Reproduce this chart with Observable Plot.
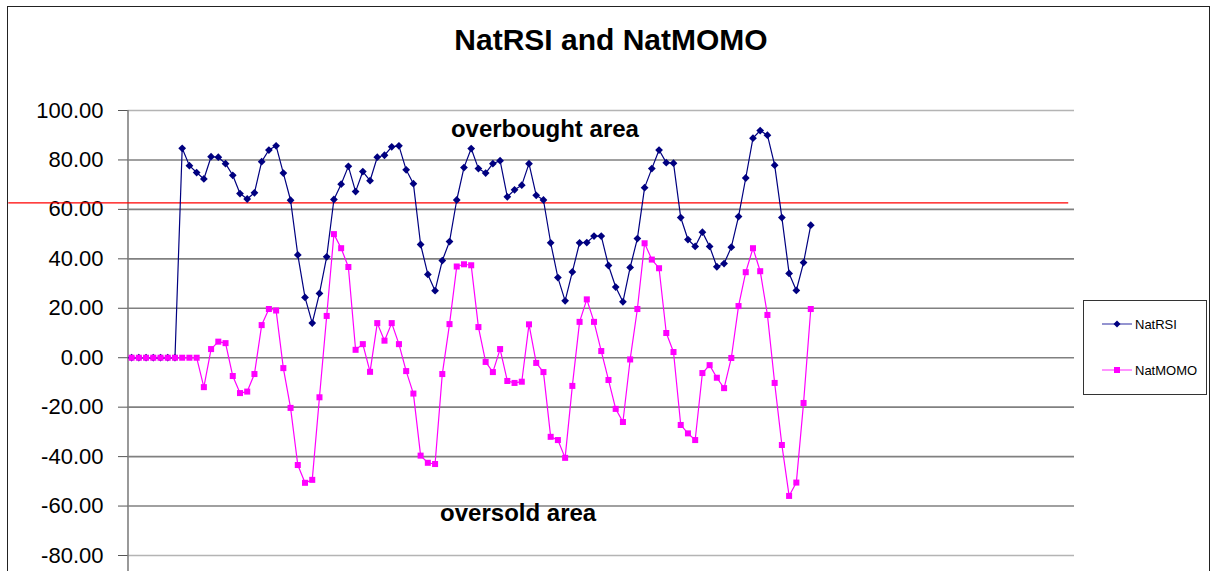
<!DOCTYPE html>
<html>
<head>
<meta charset="utf-8">
<script src="https://cdn.jsdelivr.net/npm/d3@7"></script>
<script src="https://cdn.jsdelivr.net/npm/@observablehq/plot@0.6"></script>
<style>
  html, body { margin: 0; padding: 0; background: #fff; }
  #wrap { position: relative; width: 1217px; height: 571px; overflow: hidden; font-family: "Liberation Sans", Arial, sans-serif; }
  #frame { position: absolute; left: 7px; top: 6px; width: 1203px; height: 600px; border: 1.5px solid #222; box-sizing: border-box; pointer-events: none; }
  #title { position: absolute; left: 0; width: 1222px; top: 23px; text-align: center; font-weight: bold; font-size: 30px; color: #000; }
  #legend { position: absolute; left: 1083px; top: 300px; width: 124px; height: 95px; border: 1px solid #333; box-sizing: border-box; background: #fff; font-size: 13px; }
  .item { position: absolute; left: 18px; height: 16px; display: flex; align-items: center; }
  .item span { margin-left: 3px; }
  #chart { position: absolute; left: 0; top: 0; }
</style>
</head>
<body>
<div id="wrap">
  <div id="chart"></div>
  <div id="title">NatRSI and NatMOMO</div>
  <div id="legend"></div>
  <div id="frame"></div>
</div>
<script>
// ---- data ----
const seriesNames = ["NatRSI", "NatMOMO"];
const natRSI = [0, 0, 0, 0, 0, 0, 0,
  84.7, 77.7, 74.9, 72.3, 81.3, 81.1, 78.5, 73.8, 66.4, 64.2,
  66.7, 79.3, 84.0, 85.7, 74.7, 63.7, 41.6, 24.4, 14.0, 26.0,
  40.8, 64.0, 70.2, 77.4, 67.2, 75.3, 71.6, 81.1, 81.9, 85.3,
  85.7, 76.0, 70.4, 45.8, 33.7, 27.1, 39.3, 47.0, 63.8, 76.9,
  84.6, 76.5, 74.7, 78.5, 79.7, 65.1, 67.9, 69.8, 78.5, 65.7,
  63.8, 46.5, 32.4, 23.0, 34.7, 46.5, 46.6, 49.2, 49.2, 37.3,
  28.6, 22.6, 36.5, 48.2, 68.8, 76.5, 84.0, 78.9, 78.7, 56.7,
  47.8, 45.0, 50.8, 45.0, 36.8, 38.1, 44.7, 57.1, 72.7, 88.8,
  91.9, 90.0, 77.9, 56.7, 34.1, 27.2, 38.5, 53.6];
const natMOMO = [0, 0, 0, 0, 0, 0, 0, 0, 0, 0,
  -11.9, 3.5, 6.5, 5.9, -7.4, -14.3, -13.7, -6.6, 13.2, 19.7,
  19.1, -4.2, -20.3, -43.4, -50.6, -49.4, -16.0, 16.9, 50.0, 44.3,
  36.7, 3.2, 5.5, -5.7, 14.0, 6.9, 14.0, 5.5, -5.4, -14.5,
  -39.6, -42.5, -43.0, -6.6, 13.6, 36.9, 37.8, 37.4, 12.4, -1.7,
  -5.8, 3.5, -9.4, -10.2, -9.7, 13.5, -2.1, -5.8, -32.0, -33.3,
  -40.5, -11.4, 14.5, 23.6, 14.5, 2.7, -9.0, -20.7, -26.0, -0.7,
  19.7, 46.3, 39.7, 36.2, 10.0, 2.3, -27.2, -30.6, -33.3, -6.2,
  -3.0, -8.1, -12.3, -0.1, 20.9, 34.6, 44.3, 35.0, 17.3, -10.2,
  -35.3, -55.9, -50.5, -18.3, 19.7];
const yTicks = [-80, -60, -40, -20, 0, 20, 40, 60, 80, 100];
const thresholdLevel = 62.6;
const annotations = [
  {label: "overbought area", x: 57.2, y: 92.5},
  {label: "oversold area", x: 53.5, y: -62.9}
];
const nCategories = 131;

// ---- chart ----
const idx = d3.range(natRSI.length);
const colors = {NatRSI: "#000080", NatMOMO: "#FF00FF"};

const plot = Plot.plot({
  width: 1217,
  height: 571,
  marginLeft: 127.5,
  marginRight: 1217 - 1074,
  marginTop: 110,
  marginBottom: 0,
  style: {fontFamily: '"Liberation Sans", Arial, sans-serif', background: "transparent", overflow: "visible"},
  x: {domain: [-0.5, nCategories - 0.5], axis: null},
  y: {domain: [-86.47, 100], axis: null},
  marks: [
    Plot.ruleY(yTicks.filter(d => d !== 100 && d !== -80), {stroke: "#808080", strokeWidth: 1.6}),
    Plot.ruleY([100, -80], {stroke: "#b4b4b4", strokeWidth: 1.5}),
    Plot.ruleX([-0.5], {stroke: "#808080", strokeWidth: 1.6}),
    Plot.axisY({ticks: yTicks, tickFormat: d => d.toFixed(2), tickSize: 9.5, tickPadding: 15,
      fontSize: 22, stroke: "#555", fill: "#000", label: null}),
    Plot.ruleY([thresholdLevel], {x1: () => -17, x2: () => 129.7, stroke: "#ff0000", strokeWidth: 1.2}),
    Plot.line(idx, {x: i => i, y: i => natRSI[i], stroke: colors.NatRSI, strokeWidth: 1.2}),
    Plot.dot(idx, {x: i => i, y: i => natRSI[i], symbol: "diamond2", r: 3.5, fill: colors.NatRSI, stroke: "none"}),
    Plot.line(idx, {x: i => i, y: i => natMOMO[i], stroke: colors.NatMOMO, strokeWidth: 1.2}),
    Plot.dot(idx, {x: i => i, y: i => natMOMO[i], symbol: "square", r: 3.4, fill: colors.NatMOMO, stroke: "none"}),
    Plot.text(annotations, {x: "x", y: "y", text: "label", fontSize: 24, fontWeight: "bold", fill: "#000"})
  ]
});
document.getElementById("chart").appendChild(plot);

// ---- legend ----
const legend = document.getElementById("legend");
const symbolSvg = {
  NatRSI: `<svg width="30" height="10"><line x1="0" y1="5" x2="30" y2="5" stroke="#7070c0" stroke-width="1.5"/><path d="M15,1.5L18.5,5L15,8.5L11.5,5Z" fill="#000080"/></svg>`,
  NatMOMO: `<svg width="30" height="10"><line x1="0" y1="5" x2="30" y2="5" stroke="#ff70ff" stroke-width="1.5"/><rect x="12" y="2" width="6" height="6" fill="#FF00FF"/></svg>`
};
const tops = [15, 61];
seriesNames.forEach((name, k) => {
  const div = document.createElement("div");
  div.className = "item";
  div.style.top = tops[k] + "px";
  div.innerHTML = symbolSvg[name] + `<span>${name}</span>`;
  legend.appendChild(div);
});
</script>
</body>
</html>
